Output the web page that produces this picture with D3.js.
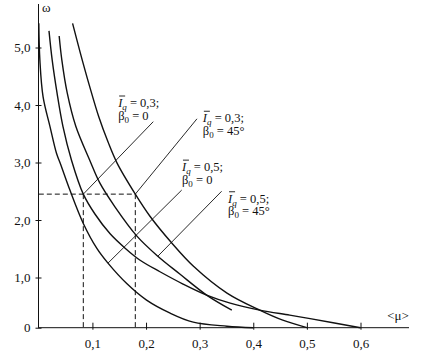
<!DOCTYPE html>
<html>
<head>
<meta charset="utf-8">
<script src="https://cdn.jsdelivr.net/npm/d3@7"></script>
<style>
  body { margin: 0; background: #fff; }
  svg { display: block; }
  svg text { font-family: "Liberation Serif", "DejaVu Serif", serif !important; }
</style>
</head>
<body>
<svg id="chart" width="435" height="362"></svg>
<script>
// Axis ticks
var xTicks = [0.1, 0.2, 0.3, 0.4, 0.5, 0.6];
var xTickLabels = ["0,1", "0,2", "0,3", "0,4", "0,5", "0,6"];
var yTicks = [0, 1, 2, 3, 4, 5];
var yTickLabels = ["0", "1,0", "2,0", "3,0", "4,0", "5,0"];

// Curves, [<mu>, omega]
var curveIq05b0 = [[0.0, 5.42], [0.002, 4.78], [0.008, 4.14], [0.021, 3.62], [0.033, 3.16],
  [0.041, 2.96], [0.058, 2.52], [0.083, 1.94], [0.108, 1.51], [0.129, 1.25], [0.164, 0.88],
  [0.201, 0.55], [0.245, 0.29], [0.288, 0.11], [0.351, 0.03], [0.4, 0.0]];
var curveIq03b0 = [[0.019, 5.29], [0.025, 4.78], [0.034, 4.21], [0.045, 3.63], [0.061, 3.04],
  [0.083, 2.45], [0.105, 2.10], [0.133, 1.76], [0.161, 1.51], [0.189, 1.30], [0.226, 1.10],
  [0.269, 0.87], [0.313, 0.65], [0.357, 0.49], [0.412, 0.35], [0.468, 0.25], [0.506, 0.18],
  [0.6, 0.0]];
var curveIq05b45 = [[0.038, 5.20], [0.043, 4.78], [0.053, 4.21], [0.069, 3.63], [0.095, 3.04],
  [0.114, 2.64], [0.142, 2.23], [0.183, 1.72], [0.222, 1.37], [0.263, 1.06], [0.313, 0.65],
  [0.36, 0.35]];
var curveIq03b45 = [[0.063, 5.42], [0.077, 4.92], [0.094, 4.35], [0.112, 3.79], [0.129, 3.36],
  [0.146, 2.99], [0.18, 2.45], [0.207, 2.07], [0.248, 1.60], [0.288, 1.20], [0.351, 0.69],
  [0.412, 0.35], [0.455, 0.15], [0.5, 0.0]];

// Dashed read-off lines
var guideOmega = 2.45;
var guideMu = [0.083, 0.18];

// Curve captions with leader lines (all in data units)
var captions = [
  { iq: "0,3", beta: "0",   at: [0.148, 3.965], from: [0.2135, 3.71], to: [0.083, 2.45] },
  { iq: "0,3", beta: "45°", at: [0.306, 3.70],  from: [0.295, 3.76],  to: [0.18, 2.45] },
  { iq: "0,5", beta: "0",   at: [0.267, 2.85],  from: [0.2665, 2.52], to: [0.129, 1.25] },
  { iq: "0,5", beta: "45°", at: [0.353, 2.30],  from: [0.341, 2.50],  to: [0.222, 1.37] }
];

var svg = d3.select("#chart");
var ink = "#111";

var x = d3.scaleLinear().domain([0, 0.6]).range([38.8, 360.5]);
// the scan's 0..1 step is shorter than the rest
var y = d3.scaleLinear().domain([0, 1, 5]).range([327.7, 277.5, 47.5]);

// axes
svg.append("line").attr("x1", 38.5).attr("x2", 38.5).attr("y1", y(0)).attr("y2", 4)
  .attr("stroke", ink).attr("stroke-width", 1);
svg.append("line").attr("x1", 38).attr("x2", 409).attr("y1", y(0)).attr("y2", y(0))
  .attr("stroke", ink).attr("stroke-width", 1);

var xAxis = svg.append("g")
  .attr("transform", "translate(0," + y(0) + ")")
  .call(d3.axisBottom(x).tickValues(xTicks)
    .tickFormat(function(d, i) { return xTickLabels[i]; })
    .tickSize(2).tickPadding(9));
xAxis.attr("font-size", 13);
xAxis.select(".domain").remove();
xAxis.selectAll(".tick line").attr("y1", -5).attr("stroke", ink);
xAxis.selectAll("text").attr("fill", ink);

var yAxis = svg.append("g")
  .attr("transform", "translate(38.5,0)")
  .call(d3.axisLeft(y).tickValues(yTicks)
    .tickFormat(function(d, i) { return yTickLabels[i]; })
    .tickSize(3).tickPadding(5));
yAxis.attr("font-size", 13);
yAxis.select(".domain").remove();
yAxis.selectAll(".tick line").attr("x1", 3).attr("stroke", ink);
yAxis.selectAll("text").attr("fill", ink);

svg.append("text").attr("x", 42).attr("y", 12).attr("font-size", 13).attr("fill", ink).text("ω");
svg.append("text").attr("x", 398).attr("y", 320).attr("text-anchor", "middle")
  .attr("font-size", 13).attr("fill", ink).text("<μ>");

// dashed guides
svg.append("line")
  .attr("x1", x(0)).attr("x2", x(guideMu[1]))
  .attr("y1", y(guideOmega)).attr("y2", y(guideOmega))
  .attr("stroke", ink).attr("stroke-width", 1).attr("stroke-dasharray", "5,3");
svg.selectAll(".guide").data(guideMu).enter().append("line")
  .attr("class", "guide")
  .attr("x1", function(d) { return x(d); }).attr("x2", function(d) { return x(d); })
  .attr("y1", y(guideOmega)).attr("y2", y(0))
  .attr("stroke", ink).attr("stroke-width", 1).attr("stroke-dasharray", "5,3");

// curves
var line = d3.line()
  .x(function(d) { return x(d[0]); })
  .y(function(d) { return y(d[1]); })
  .curve(d3.curveCatmullRom.alpha(0.5));

svg.selectAll(".curve")
  .data([curveIq05b0, curveIq03b0, curveIq05b45, curveIq03b45])
  .enter().append("path")
  .attr("class", "curve")
  .attr("d", line)
  .attr("fill", "none")
  .attr("stroke", ink)
  .attr("stroke-width", 1.4);

// leader lines
svg.selectAll(".leader").data(captions).enter().append("line")
  .attr("class", "leader")
  .attr("x1", function(d) { return x(d.from[0]); })
  .attr("y1", function(d) { return y(d.from[1]); })
  .attr("x2", function(d) { return x(d.to[0]); })
  .attr("y2", function(d) { return y(d.to[1]); })
  .attr("stroke", ink).attr("stroke-width", 0.9);

// captions
captions.forEach(function(d) {
  var g = svg.append("g")
    .attr("transform", "translate(" + x(d.at[0]) + "," + y(d.at[1]) + ")")
    .attr("fill", ink);

  var t1 = g.append("text").attr("font-size", 12.5);
  t1.append("tspan").attr("font-style", "italic").text("I");
  t1.append("tspan").attr("font-style", "italic").attr("font-size", 9).attr("dy", 3).text("q");
  t1.append("tspan").attr("dy", -3).text(" = " + d.iq + ";");
  g.append("line").attr("x1", 1).attr("x2", 7).attr("y1", -11).attr("y2", -11)
    .attr("stroke", ink).attr("stroke-width", 0.9);

  var t2 = g.append("text").attr("y", 12.5).attr("font-size", 12.5);
  t2.append("tspan").text("β");
  t2.append("tspan").attr("font-size", 9).attr("dy", 3).text("0");
  t2.append("tspan").attr("dy", -3).text(" = " + d.beta);
});
</script>
</body>
</html>
